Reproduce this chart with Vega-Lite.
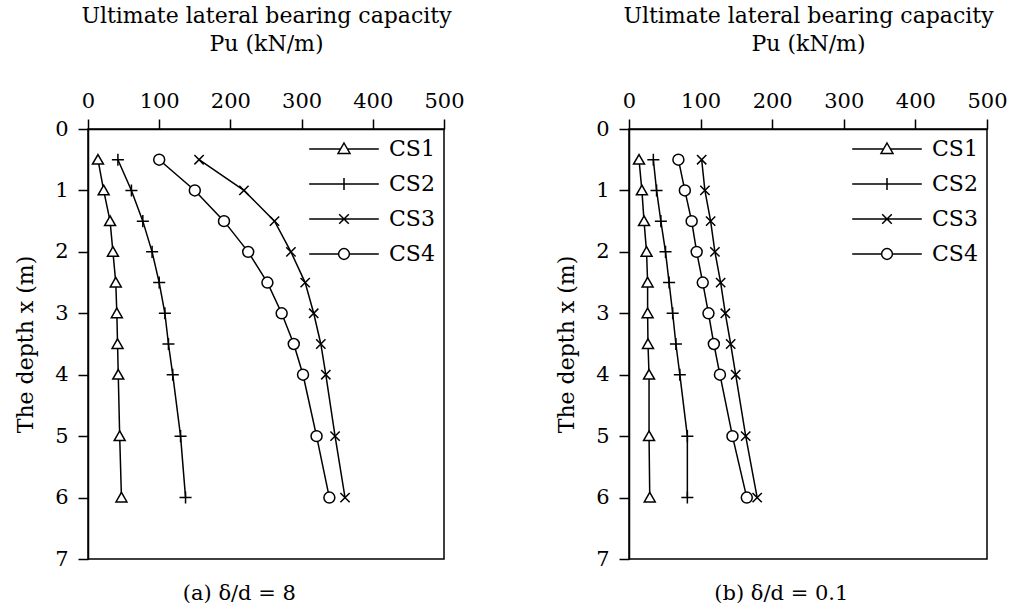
{
  "$schema": "https://vega.github.io/schema/vega-lite/v6.json",
  "padding": {"left": 13, "top": 3, "right": 5, "bottom": 5},
  "background": "white",
  "config": {
    "font": "DejaVu Serif",
    "view": {"stroke": "black", "strokeWidth": 1.5},
    "axis": {
      "grid": false,
      "labelFont": "DejaVu Serif",
      "titleFont": "DejaVu Serif",
      "labelFontSize": 21,
      "titleFontSize": 22,
      "titleFontWeight": "normal",
      "labelColor": "black",
      "titleColor": "black",
      "domainColor": "black",
      "tickColor": "black",
      "domainWidth": 1.5,
      "tickWidth": 1.5,
      "tickSize": 10
    },
    "legend": {
      "labelFont": "DejaVu Serif",
      "labelFontSize": 22,
      "labelColor": "black"
    },
    "title": {"font": "DejaVu Serif", "fontSize": 21, "fontWeight": "normal", "color": "black"}
  },
  "data": {
    "values": [
      {"panel": "a", "series": "CS1", "depth": 0.5, "pu": 14},
      {"panel": "a", "series": "CS1", "depth": 1, "pu": 22},
      {"panel": "a", "series": "CS1", "depth": 1.5, "pu": 31},
      {"panel": "a", "series": "CS1", "depth": 2, "pu": 35},
      {"panel": "a", "series": "CS1", "depth": 2.5, "pu": 39},
      {"panel": "a", "series": "CS1", "depth": 3, "pu": 40.5},
      {"panel": "a", "series": "CS1", "depth": 3.5, "pu": 41.5},
      {"panel": "a", "series": "CS1", "depth": 4, "pu": 42.5},
      {"panel": "a", "series": "CS1", "depth": 5, "pu": 44.5},
      {"panel": "a", "series": "CS1", "depth": 6, "pu": 47},
      {"panel": "a", "series": "CS2", "depth": 0.5, "pu": 42},
      {"panel": "a", "series": "CS2", "depth": 1, "pu": 61},
      {"panel": "a", "series": "CS2", "depth": 1.5, "pu": 77},
      {"panel": "a", "series": "CS2", "depth": 2, "pu": 90},
      {"panel": "a", "series": "CS2", "depth": 2.5, "pu": 100},
      {"panel": "a", "series": "CS2", "depth": 3, "pu": 108},
      {"panel": "a", "series": "CS2", "depth": 3.5, "pu": 113},
      {"panel": "a", "series": "CS2", "depth": 4, "pu": 119},
      {"panel": "a", "series": "CS2", "depth": 5, "pu": 130},
      {"panel": "a", "series": "CS2", "depth": 6, "pu": 137},
      {"panel": "a", "series": "CS3", "depth": 0.5, "pu": 156},
      {"panel": "a", "series": "CS3", "depth": 1, "pu": 219},
      {"panel": "a", "series": "CS3", "depth": 1.5, "pu": 262},
      {"panel": "a", "series": "CS3", "depth": 2, "pu": 285},
      {"panel": "a", "series": "CS3", "depth": 2.5, "pu": 305},
      {"panel": "a", "series": "CS3", "depth": 3, "pu": 317},
      {"panel": "a", "series": "CS3", "depth": 3.5, "pu": 327},
      {"panel": "a", "series": "CS3", "depth": 4, "pu": 334},
      {"panel": "a", "series": "CS3", "depth": 5, "pu": 347},
      {"panel": "a", "series": "CS3", "depth": 6, "pu": 361},
      {"panel": "a", "series": "CS4", "depth": 0.5, "pu": 100},
      {"panel": "a", "series": "CS4", "depth": 1, "pu": 150},
      {"panel": "a", "series": "CS4", "depth": 1.5, "pu": 191},
      {"panel": "a", "series": "CS4", "depth": 2, "pu": 225},
      {"panel": "a", "series": "CS4", "depth": 2.5, "pu": 252},
      {"panel": "a", "series": "CS4", "depth": 3, "pu": 272},
      {"panel": "a", "series": "CS4", "depth": 3.5, "pu": 289},
      {"panel": "a", "series": "CS4", "depth": 4, "pu": 302},
      {"panel": "a", "series": "CS4", "depth": 5, "pu": 321},
      {"panel": "a", "series": "CS4", "depth": 6, "pu": 339},
      {"panel": "b", "series": "CS1", "depth": 0.5, "pu": 14},
      {"panel": "b", "series": "CS1", "depth": 1, "pu": 18},
      {"panel": "b", "series": "CS1", "depth": 1.5, "pu": 21},
      {"panel": "b", "series": "CS1", "depth": 2, "pu": 24.5},
      {"panel": "b", "series": "CS1", "depth": 2.5, "pu": 26},
      {"panel": "b", "series": "CS1", "depth": 3, "pu": 26},
      {"panel": "b", "series": "CS1", "depth": 3.5, "pu": 26.5},
      {"panel": "b", "series": "CS1", "depth": 4, "pu": 28},
      {"panel": "b", "series": "CS1", "depth": 5, "pu": 28},
      {"panel": "b", "series": "CS1", "depth": 6, "pu": 29},
      {"panel": "b", "series": "CS2", "depth": 0.5, "pu": 34},
      {"panel": "b", "series": "CS2", "depth": 1, "pu": 38.5},
      {"panel": "b", "series": "CS2", "depth": 1.5, "pu": 44.5},
      {"panel": "b", "series": "CS2", "depth": 2, "pu": 51},
      {"panel": "b", "series": "CS2", "depth": 2.5, "pu": 56},
      {"panel": "b", "series": "CS2", "depth": 3, "pu": 61},
      {"panel": "b", "series": "CS2", "depth": 3.5, "pu": 65.5},
      {"panel": "b", "series": "CS2", "depth": 4, "pu": 71},
      {"panel": "b", "series": "CS2", "depth": 5, "pu": 81.5},
      {"panel": "b", "series": "CS2", "depth": 6, "pu": 81.5},
      {"panel": "b", "series": "CS3", "depth": 0.5, "pu": 101.5},
      {"panel": "b", "series": "CS3", "depth": 1, "pu": 106},
      {"panel": "b", "series": "CS3", "depth": 1.5, "pu": 114},
      {"panel": "b", "series": "CS3", "depth": 2, "pu": 120},
      {"panel": "b", "series": "CS3", "depth": 2.5, "pu": 128},
      {"panel": "b", "series": "CS3", "depth": 3, "pu": 134.5},
      {"panel": "b", "series": "CS3", "depth": 3.5, "pu": 142},
      {"panel": "b", "series": "CS3", "depth": 4, "pu": 149},
      {"panel": "b", "series": "CS3", "depth": 5, "pu": 163},
      {"panel": "b", "series": "CS3", "depth": 6, "pu": 179},
      {"panel": "b", "series": "CS4", "depth": 0.5, "pu": 69},
      {"panel": "b", "series": "CS4", "depth": 1, "pu": 78},
      {"panel": "b", "series": "CS4", "depth": 1.5, "pu": 87.5},
      {"panel": "b", "series": "CS4", "depth": 2, "pu": 94.5},
      {"panel": "b", "series": "CS4", "depth": 2.5, "pu": 103},
      {"panel": "b", "series": "CS4", "depth": 3, "pu": 111},
      {"panel": "b", "series": "CS4", "depth": 3.5, "pu": 118.5},
      {"panel": "b", "series": "CS4", "depth": 4, "pu": 127},
      {"panel": "b", "series": "CS4", "depth": 5, "pu": 144.5},
      {"panel": "b", "series": "CS4", "depth": 6, "pu": 164.5}
    ]
  },
  "spacing": 89,
  "resolve": {"legend": {"shape": "independent"}, "scale": {"shape": "independent"}},
  "hconcat": [
    {
      "width": 356,
      "height": 430,
      "title": {"text": "(a) δ/d = 8", "orient": "bottom", "anchor": "middle", "frame": "bounds", "offset": 14},
      "transform": [{"filter": "datum.panel === 'a'"}],
      "encoding": {
        "x": {"field": "pu", "type": "quantitative", "scale": {"domain": [0, 500], "nice": false},
          "axis": {"orient": "top", "values": [0, 100, 200, 300, 400, 500], "title": ["Ultimate lateral bearing capacity", "Pu (kN/m)"], "titleLineHeight": 28, "titlePadding": 35, "labelPadding": 8, "labelFlush": false}},
        "y": {"field": "depth", "type": "quantitative", "scale": {"domain": [0, 7], "reverse": true, "nice": false},
          "axis": {"values": [0, 1, 2, 3, 4, 5, 6, 7], "title": "The depth x (m)", "titlePadding": 17, "labelPadding": 10, "labelFlush": false}}
      },
      "resolve": {"scale": {"shape": "independent"}, "legend": {"shape": "independent"}},
      "layer": [
        {"mark": {"type": "line", "color": "black", "strokeWidth": 1.5}, "encoding": {"detail": {"field": "series"}}},
        {"mark": {"type": "point", "filled": true, "fill": "white", "stroke": "black", "strokeWidth": 1.5, "opacity": 1, "size": 120},
          "encoding": {"shape": {"field": "series", "type": "nominal", "legend": null,
            "scale": {"domain": ["CS1", "CS2", "CS3", "CS4"], "range": ["M0,-0.95L1,0.8L-1,0.8Z", "M-1.1,0H1.1M0,-1.1V1.1", "M-0.85,-0.85L0.85,0.85M-0.85,0.85L0.85,-0.85", "circle"]}}}},
        {"transform": [{"filter": "datum.depth < 0"}],
          "mark": {"type": "point", "filled": true, "fill": "white", "stroke": "black", "strokeWidth": 1.5, "opacity": 1},
          "encoding": {"shape": {"field": "series", "type": "nominal",
            "scale": {"domain": ["CS1", "CS2", "CS3", "CS4"], "range": ["M-5.8,0H-0.6M0.6,0H5.8M0,-1L1,0.75L-1,0.75Z", "M-5.8,0H5.8M0,-1V1", "M-5.8,0H5.8M-0.8,-0.8L0.8,0.8M-0.8,0.8L0.8,-0.8", "M-5.8,0H-0.9M0.9,0H5.8M0.9,0A0.9,0.9 0 1 0 -0.9,0A0.9,0.9 0 1 0 0.9,0Z"]},
            "legend": {"title": null, "orient": "top-right", "offset": 9, "padding": 0, "rowPadding": 13, "labelOffset": 34, "symbolSize": 144}}}}
      ]
    },
    {
      "width": 358,
      "height": 430,
      "title": {"text": "(b) δ/d = 0.1", "orient": "bottom", "anchor": "middle", "frame": "bounds", "offset": 14},
      "transform": [{"filter": "datum.panel === 'b'"}],
      "encoding": {
        "x": {"field": "pu", "type": "quantitative", "scale": {"domain": [0, 500], "nice": false},
          "axis": {"orient": "top", "values": [0, 100, 200, 300, 400, 500], "title": ["Ultimate lateral bearing capacity", "Pu  (kN/m)"], "titleLineHeight": 28, "titlePadding": 35, "labelPadding": 8, "labelFlush": false}},
        "y": {"field": "depth", "type": "quantitative", "scale": {"domain": [0, 7], "reverse": true, "nice": false},
          "axis": {"values": [0, 1, 2, 3, 4, 5, 6, 7], "title": "The depth x (m)", "titlePadding": 17, "labelPadding": 10, "labelFlush": false}}
      },
      "resolve": {"scale": {"shape": "independent"}, "legend": {"shape": "independent"}},
      "layer": [
        {"mark": {"type": "line", "color": "black", "strokeWidth": 1.5}, "encoding": {"detail": {"field": "series"}}},
        {"mark": {"type": "point", "filled": true, "fill": "white", "stroke": "black", "strokeWidth": 1.5, "opacity": 1, "size": 120},
          "encoding": {"shape": {"field": "series", "type": "nominal", "legend": null,
            "scale": {"domain": ["CS1", "CS2", "CS3", "CS4"], "range": ["M0,-0.95L1,0.8L-1,0.8Z", "M-1.1,0H1.1M0,-1.1V1.1", "M-0.85,-0.85L0.85,0.85M-0.85,0.85L0.85,-0.85", "circle"]}}}},
        {"transform": [{"filter": "datum.depth < 0"}],
          "mark": {"type": "point", "filled": true, "fill": "white", "stroke": "black", "strokeWidth": 1.5, "opacity": 1},
          "encoding": {"shape": {"field": "series", "type": "nominal",
            "scale": {"domain": ["CS1", "CS2", "CS3", "CS4"], "range": ["M-5.8,0H-0.6M0.6,0H5.8M0,-1L1,0.75L-1,0.75Z", "M-5.8,0H5.8M0,-1V1", "M-5.8,0H5.8M-0.8,-0.8L0.8,0.8M-0.8,0.8L0.8,-0.8", "M-5.8,0H-0.9M0.9,0H5.8M0.9,0A0.9,0.9 0 1 0 -0.9,0A0.9,0.9 0 1 0 0.9,0Z"]},
            "legend": {"title": null, "orient": "top-right", "offset": 9, "padding": 0, "rowPadding": 13, "labelOffset": 34, "symbolSize": 144}}}}
      ]
    }
  ]
}
